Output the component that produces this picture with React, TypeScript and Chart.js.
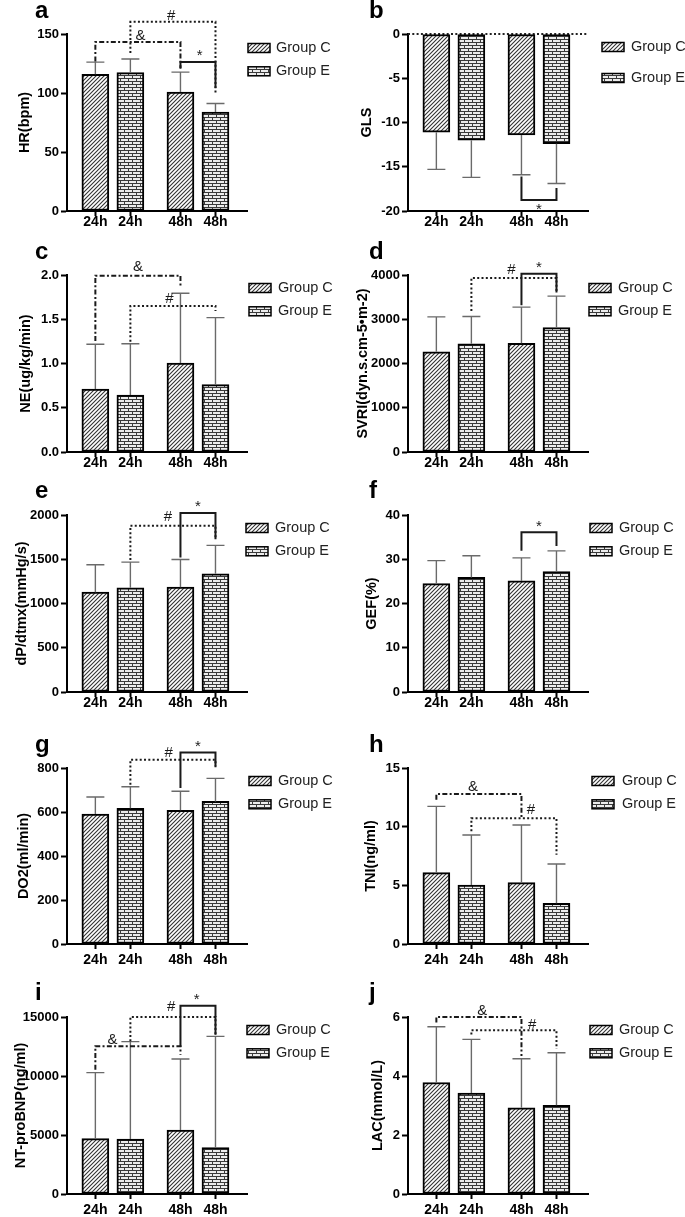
import React, { useEffect, useRef } from 'react';
import { Chart, registerables } from 'chart.js';

Chart.register(...registerables);

const FONT = "'Liberation Sans', Arial, sans-serif";

// ---------- data ----------
const xLabels = ['24h', '24h', '48h', '48h'];
const barPos = [1, 2, 3.43, 4.43];
const xRange = [0.19, 5.33];
const groupNames = ['Group C', 'Group E'];
const groupOfBar = [0, 1, 0, 1];

const hrMean = [115.8, 117.2, 100.8, 83.8];
const hrSd = [10.4, 11.6, 16.9, 7.3];
const hrTicks = [0, 50, 100, 150];

const glsMean = [-11.1, -12.0, -11.4, -12.4];
const glsSd = [4.2, 4.2, 4.5, 4.5];
const glsTicks = [-20, -15, -10, -5, 0];

const neMean = [0.712, 0.644, 1.006, 0.761];
const neSd = [0.505, 0.58, 0.787, 0.757];
const neTicks = [0, 0.5, 1.0, 1.5, 2.0];

const svriMean = [2265, 2447, 2455, 2811];
const svriSd = [788, 614, 818, 712];
const svriTicks = [0, 1000, 2000, 3000, 4000];

const dpMean = [1128, 1177, 1185, 1336];
const dpSd = [310, 291, 313, 321];
const dpTicks = [0, 500, 1000, 1500, 2000];

const gefMean = [24.5, 25.9, 25.1, 27.2];
const gefSd = [5.2, 4.9, 5.2, 4.7];
const gefTicks = [0, 10, 20, 30, 40];

const do2Mean = [591, 617, 608, 648];
const do2Sd = [77, 98, 86, 105];
const do2Ticks = [0, 200, 400, 600, 800];

const tniMean = [6.08, 5.03, 5.23, 3.47];
const tniSd = [5.65, 4.26, 4.91, 3.35];
const tniTicks = [0, 5, 10, 15];

const bnpMean = [4689, 4661, 5424, 3927];
const bnpSd = [5593, 8249, 6017, 9435];
const bnpTicks = [0, 5000, 10000, 15000];

const lacMean = [3.78, 3.42, 2.92, 3.01];
const lacSd = [1.89, 1.82, 1.665, 1.78];
const lacTicks = [0, 2, 4, 6];

// significance brackets: from/to bar index, line value, leg end values, label
type Mark = { style: string; from: number; to: number; y: number; y1: number; y2: number; text: string; at: number; ty: number };

const hrMarks: Mark[] = [
  { style: 'dashdot', from: 0, to: 2, y: 143.2, y1: 126.8, y2: 121.1, text: '&', at: 0.53, ty: 148.6 },
  { style: 'dot', from: 1, to: 3, y: 160.3, y1: 133.9, y2: 98.5, text: '#', at: 0.48, ty: 165.6 },
  { style: 'solid', from: 2, to: 3, y: 126.2, y1: 120.6, y2: 104.2, text: '*', at: 0.55, ty: 134.4 },
];
const glsMarks: Mark[] = [
  { style: 'solid', from: 2, to: 3, y: -18.75, y1: -16.1, y2: -17.4, text: '*', at: 0.5, ty: -19.5 },
];
const neMarks: Mark[] = [
  { style: 'dashdot', from: 0, to: 2, y: 1.992, y1: 1.254, y2: 1.857, text: '&', at: 0.5, ty: 2.094 },
  { style: 'dot', from: 1, to: 3, y: 1.65, y1: 1.247, y2: 1.593, text: '#', at: 0.46, ty: 1.725 },
];
const svriMarks: Mark[] = [
  { style: 'dot', from: 1, to: 3, y: 3932, y1: 3189, y2: 3606, text: '#', at: 0.47, ty: 4120 },
  { style: 'solid', from: 2, to: 3, y: 4030, y1: 3318, y2: 3606, text: '*', at: 0.5, ty: 4227 },
];
const dpMarks: Mark[] = [
  { style: 'dot', from: 1, to: 3, y: 1879, y1: 1491, y2: 1725, text: '#', at: 0.44, ty: 1974 },
  { style: 'solid', from: 2, to: 3, y: 2023, y1: 1521, y2: 1725, text: '*', at: 0.5, ty: 2125 },
];
const gefMarks: Mark[] = [
  { style: 'solid', from: 2, to: 3, y: 36.1, y1: 31.9, y2: 33.0, text: '*', at: 0.5, ty: 38.1 },
];
const do2Marks: Mark[] = [
  { style: 'dot', from: 1, to: 3, y: 838, y1: 724, y2: 803, text: '#', at: 0.45, ty: 871 },
  { style: 'solid', from: 2, to: 3, y: 871, y1: 709, y2: 808, text: '*', at: 0.5, ty: 911 },
];
const tniMarks: Mark[] = [
  { style: 'dashdot', from: 0, to: 2, y: 12.78, y1: 12.3, y2: 10.74, text: '&', at: 0.43, ty: 13.4 },
  { style: 'dot', from: 1, to: 3, y: 10.71, y1: 9.6, y2: 7.61, text: '#', at: 0.7, ty: 11.45 },
];
const bnpMarks: Mark[] = [
  { style: 'dashdot', from: 0, to: 2, y: 12514, y1: 10537, y2: 11808, text: '&', at: 0.2, ty: 13079 },
  { style: 'dot', from: 1, to: 3, y: 15000, y1: 12938, y2: 13503, text: '#', at: 0.48, ty: 15819 },
  { style: 'solid', from: 2, to: 3, y: 15960, y1: 12458, y2: 13503, text: '*', at: 0.46, ty: 16695 },
];
const lacMarks: Mark[] = [
  { style: 'dashdot', from: 0, to: 2, y: 6.0, y1: 5.81, y2: 4.68, text: '&', at: 0.54, ty: 6.2 },
  { style: 'dot', from: 1, to: 3, y: 5.55, y1: 5.41, y2: 4.92, text: '#', at: 0.715, ty: 5.75 },
];

// ---------- layout ----------
const cols = [
  { x: 0, w: 340, axisX: 67 },
  { x: 340, w: 345, axisX: 408 },
];
const rows = [
  { y: 0, h: 240, top: 34, bottom: 211, letterY: 18, legY: 48, xPad: -2.5 },
  { y: 240, h: 240, top: 275, bottom: 452, letterY: 259, legY: 288, xPad: -2.5 },
  { y: 480, h: 240, top: 515, bottom: 692, letterY: 498, legY: 528, xPad: -2.5 },
  { y: 720, h: 252, top: 768, bottom: 944, letterY: 752, legY: 781, xPad: 3 },
  { y: 960, h: 257, top: 1017, bottom: 1194, letterY: 1000, legY: 1030, xPad: 3 },
];

const panels = [
  { letter: 'a', title: 'HR(bpm)', mean: hrMean, sd: hrSd, ticks: hrTicks, dec: 0, marks: hrMarks, col: 0, row: 0, titleX: 25, legX: 248, legTX: 276, legGap: 23.3 },
  { letter: 'b', title: 'GLS', mean: glsMean, sd: glsSd, ticks: glsTicks, dec: 0, marks: glsMarks, col: 1, row: 0, titleX: 367, legX: 602, legTX: 631, legGap: 31, zero: true, legY: 47 },
  { letter: 'c', title: 'NE(ug/kg/min)', mean: neMean, sd: neSd, ticks: neTicks, dec: 1, marks: neMarks, col: 0, row: 1, titleX: 25.5, legX: 249, legTX: 278, legGap: 23.3 },
  { letter: 'd', title: 'SVRI(dyn.s.cm-5\u2022m-2)', mean: svriMean, sd: svriSd, ticks: svriTicks, dec: 0, marks: svriMarks, col: 1, row: 1, titleX: 362.5, legX: 589, legTX: 618, legGap: 23.3 },
  { letter: 'e', title: 'dP/dtmx(mmHg/s)', mean: dpMean, sd: dpSd, ticks: dpTicks, dec: 0, marks: dpMarks, col: 0, row: 2, titleX: 21.5, legX: 246, legTX: 275, legGap: 23.3 },
  { letter: 'f', title: 'GEF(%)', mean: gefMean, sd: gefSd, ticks: gefTicks, dec: 0, marks: gefMarks, col: 1, row: 2, titleX: 371.7, legX: 590, legTX: 619, legGap: 23.3 },
  { letter: 'g', title: 'DO2(ml/min)', mean: do2Mean, sd: do2Sd, ticks: do2Ticks, dec: 0, marks: do2Marks, col: 0, row: 3, titleX: 24, legX: 249, legTX: 278, legGap: 23.3 },
  { letter: 'h', title: 'TNI(ng/ml)', mean: tniMean, sd: tniSd, ticks: tniTicks, dec: 0, marks: tniMarks, col: 1, row: 3, titleX: 371, legX: 592, legTX: 622, legGap: 23.3 },
  { letter: 'i', title: 'NT-proBNP(ng/ml)', mean: bnpMean, sd: bnpSd, ticks: bnpTicks, dec: 0, marks: bnpMarks, col: 0, row: 4, titleX: 20.5, legX: 247, legTX: 276, legGap: 23.3 },
  { letter: 'j', title: 'LAC(mmol/L)', mean: lacMean, sd: lacSd, ticks: lacTicks, dec: 0, marks: lacMarks, col: 1, row: 4, titleX: 377.5, legX: 590, legTX: 619, legGap: 23.3 },
];

const DASH: Record<string, number[]> = { dot: [2, 2.3], dashdot: [5, 2.3, 2, 2.3], solid: [] };

function makeHatch(ctx: CanvasRenderingContext2D) {
  const t = document.createElement('canvas');
  t.width = 4; t.height = 4;
  const c = t.getContext('2d')!;
  c.fillStyle = '#fff';
  c.fillRect(0, 0, 4, 4);
  c.strokeStyle = '#333';
  c.lineWidth = 1.1;
  c.beginPath();
  c.moveTo(-1, 5); c.lineTo(5, -1);
  c.moveTo(-1, 1); c.lineTo(1, -1);
  c.moveTo(3, 5); c.lineTo(5, 3);
  c.stroke();
  return ctx.createPattern(t, 'repeat')!;
}

function makeBrick(ctx: CanvasRenderingContext2D) {
  const t = document.createElement('canvas');
  t.width = 8; t.height = 6;
  const c = t.getContext('2d')!;
  c.fillStyle = '#ececec';
  c.fillRect(0, 0, 8, 6);
  c.fillStyle = '#3a3a3a';
  c.fillRect(0, 0, 8, 1);
  c.fillRect(0, 3, 8, 1);
  c.fillRect(0, 1, 1, 2);
  c.fillRect(4, 4, 1, 2);
  return ctx.createPattern(t, 'repeat')!;
}

function PanelChart({ p }: { p: any }) {
  const ref = useRef<HTMLCanvasElement>(null);
  const col = cols[p.col];
  const row = rows[p.row];
  useEffect(() => {
    const canvas = ref.current!;
    const ctx = canvas.getContext('2d')!;
    const pats = [makeHatch(ctx), makeBrick(ctx)];
    const right = col.axisX + 180;
    const yW = col.axisX - col.x;
    const padTop = row.top - row.y;
    const padRight = col.x + col.w - right;
    const xH = row.y + row.h - row.bottom;
    const titlePad = p.titleX - col.x - 8.7;
    const ox = col.x, oy = row.y;

    const decor = {
      id: 'decor',
      beforeDatasetsDraw(chart: any) {
        if (!p.zero) return;
        const c = chart.ctx, a = chart.chartArea;
        const y0 = chart.scales.y.getPixelForValue(0);
        c.save();
        c.strokeStyle = '#222';
        c.lineWidth = 2;
        c.setLineDash(DASH.dot);
        c.beginPath();
        c.moveTo(a.left, y0);
        c.lineTo(a.right, y0);
        c.stroke();
        c.restore();
      },
      afterDatasetsDraw(chart: any) {
        const c = chart.ctx;
        const xs = chart.scales.x, ys = chart.scales.y;
        c.save();
        c.strokeStyle = '#6a6a6a';
        c.lineWidth = 1.4;
        p.mean.forEach((m: number, i: number) => {
          const s = m >= 0 ? 1 : -1;
          const x = xs.getPixelForValue(barPos[i]);
          const y1 = ys.getPixelForValue(m);
          const y2 = ys.getPixelForValue(m + s * p.sd[i]);
          c.beginPath();
          c.moveTo(x, y1);
          c.lineTo(x, y2);
          c.moveTo(x - 9, y2);
          c.lineTo(x + 9, y2);
          c.stroke();
        });
        c.restore();
      },
      afterDraw(chart: any) {
        const c = chart.ctx;
        const xs = chart.scales.x, ys = chart.scales.y;
        c.save();
        // brackets
        p.marks.forEach((m: Mark) => {
          const x1 = xs.getPixelForValue(barPos[m.from]);
          const x2 = xs.getPixelForValue(barPos[m.to]);
          const yl = ys.getPixelForValue(m.y);
          c.strokeStyle = '#1a1a1a';
          c.lineWidth = 2;
          c.setLineDash(DASH[m.style]);
          c.beginPath();
          c.moveTo(x1, ys.getPixelForValue(m.y1));
          c.lineTo(x1, yl);
          c.lineTo(x2, yl);
          c.lineTo(x2, ys.getPixelForValue(m.y2));
          c.stroke();
          c.setLineDash([]);
          c.fillStyle = '#1a1a1a';
          c.font = `15px ${FONT}`;
          c.textAlign = 'center';
          c.textBaseline = 'middle';
          const tx = x1 + (x2 - x1) * m.at;
          const ty = ys.getPixelForValue(m.ty) + (m.text === '*' ? 3 : 0);
          c.fillText(m.text, tx, ty);
        });
        // legend
        const ly = (p.legY ?? row.legY) - oy;
        [0, 1].forEach((g) => {
          const yy = ly + g * p.legGap;
          c.fillStyle = pats[g];
          c.fillRect(p.legX - ox, yy - 4.5, 22, 9);
          c.strokeStyle = '#000';
          c.lineWidth = 1.5;
          c.strokeRect(p.legX - ox, yy - 4.5, 22, 9);
          c.fillStyle = '#222';
          c.font = `14.5px ${FONT}`;
          c.textAlign = 'left';
          c.textBaseline = 'middle';
          c.fillText(groupNames[g], p.legTX - ox, yy);
        });
        // panel letter
        c.fillStyle = '#000';
        c.font = `bold 24px ${FONT}`;
        c.textAlign = 'left';
        c.textBaseline = 'alphabetic';
        c.fillText(p.letter, (p.col === 0 ? 35 : 369) - ox, row.letterY - oy);
        c.restore();
      },
    };

    const chart = new Chart(ctx, {
      type: 'bar',
      data: {
        datasets: [0, 1].map((g) => ({
          label: groupNames[g],
          data: barPos
            .map((x, i) => (groupOfBar[i] === g ? { x, y: p.mean[i] } : null))
            .filter(Boolean) as any,
          backgroundColor: pats[g] as any,
          borderColor: '#000',
          borderWidth: 2,
          borderSkipped: false,
          barThickness: 27,
          grouped: false,
        })),
      },
      options: {
        responsive: false,
        animation: false,
        devicePixelRatio: 1,
        layout: { padding: { left: 0, top: padTop, right: padRight, bottom: 0 } },
        plugins: { legend: { display: false }, tooltip: { enabled: false } },
        scales: {
          x: {
            type: 'linear',
            bounds: 'data',
            offset: false,
            min: xRange[0],
            max: xRange[1],
            afterBuildTicks: (s: any) => { s.ticks = barPos.map((v) => ({ value: v })); },
            afterFit: (s: any) => { s.height = xH; },
            grid: { offset: false, drawOnChartArea: false, drawTicks: true, tickLength: 5, tickWidth: 2, tickColor: '#000', color: '#000' },
            border: { display: true, color: '#000', width: 2 },
            ticks: {
              font: { family: FONT, size: 14, weight: 'bold', lineHeight: 1.2 },
              color: '#000',
              padding: row.xPad,
              maxRotation: 0,
              autoSkip: false,
              callback: (_v: any, i: number) => xLabels[i],
            },
          },
          y: {
            type: 'linear',
            min: p.ticks[0],
            max: p.ticks[p.ticks.length - 1],
            afterBuildTicks: (s: any) => { s.ticks = p.ticks.map((v: number) => ({ value: v })); },
            afterFit: (s: any) => { s.width = yW; },
            grid: { drawOnChartArea: false, drawTicks: true, tickLength: 6, tickWidth: 2, tickColor: '#000', color: '#000' },
            border: { display: true, color: '#000', width: 2 },
            ticks: {
              font: { family: FONT, size: 13, weight: 'bold' },
              color: '#000',
              padding: 2,
              autoSkip: false,
              callback: (v: any) => Number(v).toFixed(p.dec),
            },
            title: {
              display: true,
              text: p.title,
              color: '#000',
              font: { family: FONT, size: 14.5, weight: 'bold', lineHeight: 1.2 },
              padding: { top: titlePad, bottom: 0 },
            },
          },
        },
      } as any,
      plugins: [decor],
    });
    return () => chart.destroy();
  }, []);
  return (
    <canvas
      ref={ref}
      width={col.w}
      height={row.h}
      style={{ position: 'absolute', left: col.x, top: row.y, width: col.w, height: row.h }}
    />
  );
}

export default function App() {
  return (
    <div style={{ position: 'absolute', left: 0, top: 0, width: 685, height: 1217, background: '#fff', overflow: 'hidden' }}>
      {panels.map((p) => (
        <PanelChart key={p.letter} p={p} />
      ))}
    </div>
  );
}
